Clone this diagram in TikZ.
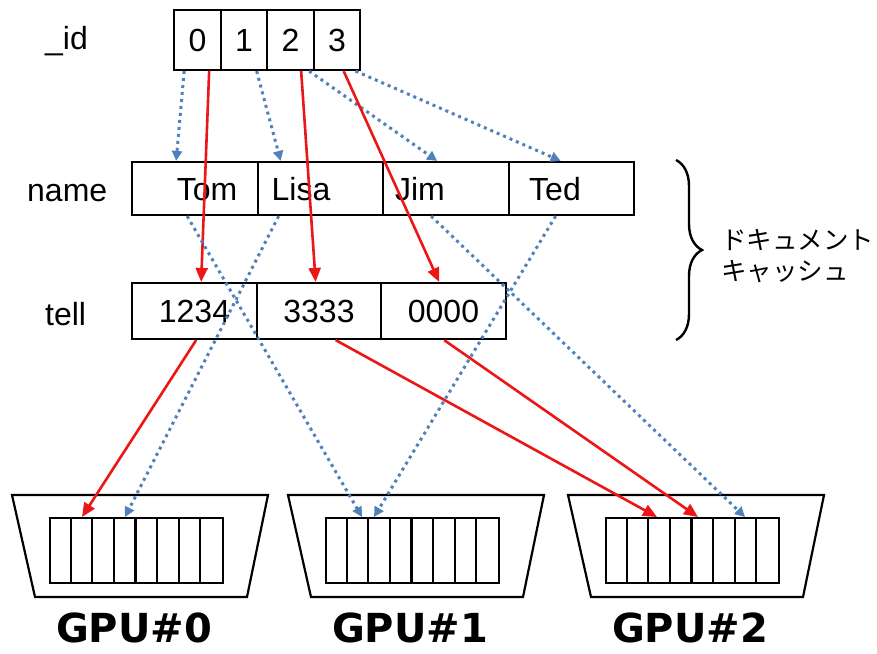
\documentclass[tikz,border=0pt]{standalone}
\usepackage{fontspec}
\setmainfont{Liberation Sans}
\newfontfamily\gpufont{DejaVu Sans}
\newfontfamily\jpfont{Noto Sans CJK JP}
\usetikzlibrary{arrows.meta,decorations.pathreplacing}
\definecolor{linkred}{RGB}{236,22,22}
\definecolor{linkblue}{RGB}{79,129,189}

\tikzset{
  txt/.style={font=\fontsize{32}{32}\selectfont, inner sep=0pt},
  cellbox/.style={draw, line width=2.2pt, inner sep=0pt, txt},
  idcell/.style={cellbox, minimum width=46.5pt, minimum height=60pt},
  namecell/.style={cellbox, minimum width=125.5pt, minimum height=53pt},
  tellcell/.style={cellbox, minimum width=124.5pt, minimum height=56pt},
  rowlabel/.style={txt, anchor=base west},
  gpulabel/.style={font=\gpufont\bfseries\fontsize{40}{40}\selectfont,
    inner sep=0pt, anchor=base},
  redlink/.style={draw=linkred, line width=2.6pt,
    -{Triangle[length=14pt,width=12pt]}},
  bluelink/.style={draw=linkblue, line width=3pt, dash pattern=on 3pt off 4pt,
    -{Triangle[length=10pt,width=10pt]}}
}

\begin{document}
\begin{tikzpicture}[x=1pt,y=-1pt]
\useasboundingbox (0,0) rectangle (877,653);

% row labels
\node[rowlabel] (lid)   at (45,49)  {\_id};
\node[rowlabel] (lname) at (27,201) {name};
\node[rowlabel] (ltell) at (45,325) {tell};

% _id cells
\node[idcell] (id0) at (197.5,40) {0};
\node[idcell] (id1) at (244,40)   {1};
\node[idcell] (id2) at (290.5,40) {2};
\node[idcell] (id3) at (337,40)   {3};

% name cells with their texts
\node[namecell] (nTom)  at (195,188.5)   {};
\node[namecell] (nLisa) at (320.5,188.5) {};
\node[namecell] (nJim)  at (446,188.5)   {};
\node[namecell] (nTed)  at (571.5,188.5) {};
\node[txt, anchor=base] (tTom)  at (207,200) {Tom};
\node[txt, anchor=base] (tLisa) at (301,200) {Lisa};
\node[txt, anchor=base] (tJim)  at (420,200) {Jim};
\node[txt, anchor=base] (tTed)  at (555,200) {Ted};

% tell cells
\node[tellcell] (t1) at (194.5,311) {1234};
\node[tellcell] (t2) at (319,311)   {3333};
\node[tellcell] (t3) at (443.5,311) {0000};

% brace and its caption
\draw[decorate, decoration={brace, amplitude=26pt}, line width=2.4pt]
  (676,160) -- (676,340);
\node[anchor=west, align=left, inner sep=0pt,
      font=\jpfont\fontsize{25.5}{31}\selectfont] (cache) at (721,256)
  {ドキュメント\\キャッシュ};

% GPUs: trapezoid frame, 8-slot buffer and caption
\foreach \i/\off in {0/0, 1/276, 2/556} {
  \draw[line width=2.2pt] (12+\off,495) -- (268+\off,495)
    -- (247+\off,597) -- (35+\off,597) -- cycle;
  \node[draw, line width=2.2pt, minimum width=173pt, minimum height=65pt,
        inner sep=0pt, anchor=north west] (g\i) at (49+\off,517) {};
  \foreach \k in {1,...,7}
    \draw[line width=2.2pt] ([xshift=\k*21.625pt]g\i.north west)
      -- ([xshift=\k*21.625pt]g\i.south west);
  \node[gpulabel] (gl\i) at (134+\off,642) {GPU\#\i};
}

% _id -> name (dotted) and _id -> tell (red)
\draw[bluelink] ([xshift=11pt]id0.south west) -- ([xshift=45pt]nTom.north west);
\draw[bluelink] ([xshift=37pt]id1.south west) -- ([xshift=24pt]nLisa.north west);
\draw[bluelink] ([xshift=43pt]id2.south west) -- ([xshift=55pt]nJim.north west);
\draw[bluelink] ([xshift=43pt]id3.south west) -- ([xshift=53pt]nTed.north west);

\draw[redlink] ([xshift=36pt]id0.south west) -- ([xshift=70pt]t1.north west);
\draw[redlink] ([xshift=35pt]id2.south west) -- ([xshift=60pt]t2.north west);
\draw[redlink] ([xshift=31pt]id3.south west) -- ([xshift=59pt]t3.north west);

% name -> GPU (dotted)
\draw[bluelink] ([xshift=22pt]nLisa.south west) -- ([xshift=76pt]g0.north west);
\draw[bluelink] ([xshift=56pt]nTom.south west)  -- ([xshift=37pt]g1.north west);
\draw[bluelink] ([xshift=48pt]nTed.south west)  -- ([xshift=49pt]g1.north west);
\draw[bluelink] ([xshift=49pt]nJim.south west)  -- ([xshift=140pt]g2.north west);

% tell -> GPU (red)
\draw[redlink] ([xshift=65pt]t1.south west) -- ([xshift=33pt]g0.north west);
\draw[redlink] ([xshift=80pt]t2.south west) -- ([xshift=52pt]g2.north west);
\draw[redlink] ([xshift=64pt]t3.south west) -- ([xshift=93pt]g2.north west);
\end{tikzpicture}
\end{document}
